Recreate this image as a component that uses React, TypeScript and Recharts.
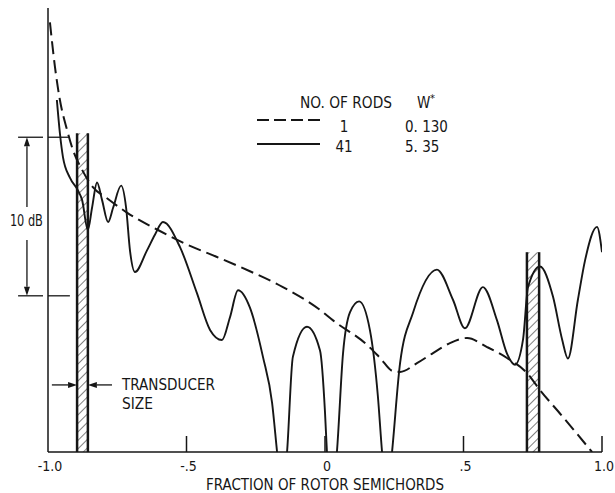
import React from "react"
import { LineChart, Line, XAxis, YAxis, ReferenceArea, ReferenceLine, ReferenceDot, Legend } from "recharts"

// 1 rod (dashed)
const rod1X = [-0.993, -0.975, -0.957, -0.931, -0.91, -0.877, -0.838, -0.787, -0.715, -0.603, -0.513, -0.39, -0.271, -0.152, -0.018, 0.029, 0.152, 0.199, 0.245, 0.271, 0.332, 0.39, 0.451, 0.513, 0.585, 0.657, 0.729, 0.776, 0.859, 0.964]
const rod1Db = [27.1, 24.3, 22.2, 20.3, 19.05, 17.8, 16.7, 16.0, 15.1, 14.0, 13.2, 12.3, 11.4, 10.4, 8.96, 8.3, 6.75, 5.93, 5.1, 5.05, 5.6, 6.24, 6.87, 7.19, 6.62, 5.93, 4.98, 3.91, 2.21, 0]

// 41 rods (solid); values below 0 are the nulls that run off the bottom
const rod41X = [-0.968, -0.957, -0.946, -0.921, -0.892, -0.877, -0.856, -0.841, -0.823, -0.805, -0.783, -0.765, -0.736, -0.718, -0.704, -0.686, -0.643, -0.614, -0.585, -0.523, -0.462, -0.415, -0.372, -0.343, -0.314, -0.271, -0.224, -0.191, -0.173, -0.155, -0.137, -0.116, -0.065, -0.018, 0.0, 0.007, 0.025, 0.043, 0.065, 0.09, 0.123, 0.162, 0.191, 0.206, 0.224, 0.242, 0.271, 0.318, 0.404, 0.462, 0.505, 0.57, 0.621, 0.657, 0.686, 0.715, 0.733, 0.776, 0.823, 0.856, 0.877, 0.913, 0.939, 0.982, 1.0]
const rod41Db = [22.2, 20.1, 18.6, 17.3, 16.5, 15.9, 14.0, 15.4, 17.0, 15.9, 14.5, 15.4, 16.8, 15.4, 12.7, 11.35, 12.7, 13.7, 14.5, 12.9, 10.0, 7.7, 7.06, 8.5, 10.2, 9.1, 6.0, 3.1, 0, -3, 0, 6.0, 7.9, 6.4, 2.5, 0, -3, 0, 6.2, 8.8, 9.5, 7.7, 3.5, 0, -3, 0, 5.6, 8.8, 11.5, 9.6, 7.8, 10.4, 8.3, 6.2, 5.5, 7.1, 10.4, 11.7, 9.8, 7.1, 5.9, 9.6, 12.1, 14.2, 12.6]

const xTicks = [-1, -0.5, 0, 0.5, 1]
const xTickLabels = ["-1.0", "-.5", "0", ".5", "1.0"]

const rodCounts = ["1", "41"]
const wStar = ["0. 130", "5. 35"]

// transducer strips: x1, x2, top (dB)
const stripLeft = [-0.895, -0.856, 20.1]
const stripRight = [0.729, 0.773, 12.6]

// 10 dB scale bar
const scaleBarDb = [9.85, 19.85]

const INK = "#161616"
const FONT = "'DejaVu Sans Condensed', 'Liberation Sans Narrow', 'Roboto Condensed', 'DejaVu Sans', sans-serif"

const rod1 = rod1X.map((x, i) => ({ x, db: rod1Db[i] }))
const rod41 = rod41X.map((x, i) => ({ x, db: rod41Db[i] }))

function XTick({ x, y, payload }: any) {
  const i = xTicks.indexOf(payload.value)
  return (
    <g>
      {payload.value !== -1 && <line x1={x} x2={x} y1={y} y2={y - 16} stroke={INK} strokeWidth={1.5} />}
      <text x={x + 2} y={y + 19} textAnchor="middle" fontSize={14} fontFamily={FONT} fill={INK}>
        {xTickLabels[i]}
      </text>
    </g>
  )
}

function AxisTitle(props: any) {
  const vb = props.viewBox
  return (
    <text
      x={vb.x + vb.width / 2}
      y={vb.y + vb.height - 3}
      textAnchor="middle"
      fontSize={15}
      fontFamily={FONT}
      fill={INK}
      textLength={238}
      lengthAdjust="spacingAndGlyphs"
    >
      FRACTION OF ROTOR SEMICHORDS
    </text>
  )
}

function Arrow(props: any) {
  const { x1, y1, x2, y2 } = props
  const a = Math.atan2(y2 - y1, x2 - x1)
  const len = 9
  const half = 3
  const bx = x2 - len * Math.cos(a)
  const by = y2 - len * Math.sin(a)
  const px = -Math.sin(a) * half
  const py = Math.cos(a) * half
  return (
    <g>
      <line x1={x1} y1={y1} x2={bx} y2={by} stroke={INK} strokeWidth={1.3} />
      <polygon points={`${x2},${y2} ${bx + px},${by + py} ${bx - px},${by - py}`} fill={INK} />
    </g>
  )
}

function LegendBox() {
  return (
    <svg width={220} height={70} style={{ display: "block", overflow: "visible" }}>
      <text x={50} y={20} fontSize={15} fontFamily={FONT} fill={INK} textLength={92} lengthAdjust="spacingAndGlyphs">
        NO. OF RODS
      </text>
      <text x={167} y={20} fontSize={15} fontFamily={FONT} fill={INK}>W</text>
      <text x={180} y={14} fontSize={11} fontFamily={FONT} fill={INK}>*</text>
      <line x1={7} x2={70} y1={32} y2={32} stroke={INK} strokeWidth={2} strokeDasharray="12 5" />
      <line x1={7} x2={70} y1={56} y2={56} stroke={INK} strokeWidth={1.8} />
      {rodCounts.map((r, i) => (
        <text key={r} x={94} y={44 + i * 20} textAnchor="middle" fontSize={15} fontFamily={FONT} fill={INK}>
          {r}
        </text>
      ))}
      {wStar.map((w, i) => (
        <text key={w} x={155} y={44 + i * 20} fontSize={15} fontFamily={FONT} fill={INK}>
          {w}
        </text>
      ))}
    </svg>
  )
}

export default function App() {
  return (
    <div style={{ position: "absolute", left: 0, top: 0, width: 615, height: 493, background: "#fff" }}>
      <LineChart width={615} height={493} margin={{ top: 8, right: 13, bottom: 0, left: 0 }}>
        <defs>
          <pattern id="hatch" width={6} height={6} patternUnits="userSpaceOnUse" patternTransform="rotate(45)">
            <line x1={0} y1={0} x2={0} y2={6} stroke={INK} strokeWidth={1.1} />
          </pattern>
        </defs>
        <XAxis
          type="number"
          dataKey="x"
          domain={[-1, 1]}
          allowDataOverflow
          ticks={xTicks}
          interval={0}
          tick={(p: any) => <XTick {...p} />}
          tickLine={false}
          tickSize={0}
          tickMargin={0}
          height={41}
          axisLine={{ stroke: INK, strokeWidth: 1.5 }}
          label={{ content: AxisTitle }}
        />
        <YAxis
          type="number"
          domain={[0, 28]}
          allowDataOverflow
          width={48}
          tick={false}
          tickLine={false}
          axisLine={{ stroke: INK, strokeWidth: 1.5 }}
        />

        <ReferenceArea x1={stripLeft[0]} x2={stripLeft[1]} y1={0} y2={stripLeft[2]} fill="url(#hatch)" fillOpacity={1} stroke="none" />
        <ReferenceArea x1={stripRight[0]} x2={stripRight[1]} y1={0} y2={stripRight[2]} fill="url(#hatch)" fillOpacity={1} stroke="none" />
        {[stripLeft, stripRight].flatMap((s, k) =>
          [s[0], s[1]].map((xe, j) => (
            <ReferenceLine
              key={`edge${k}${j}`}
              segment={[{ x: xe, y: 0 }, { x: xe, y: s[2] }]}
              stroke={INK}
              strokeWidth={2.5}
            />
          ))
        )}

        {scaleBarDb.flatMap((d, k) => [
          <ReferenceLine key={`sbA${k}`} segment={[{ x: -1.108, y: d }, { x: -1.018, y: d }]} stroke={INK} strokeWidth={1.3} ifOverflow="visible" />,
          <ReferenceLine key={`sbB${k}`} segment={[{ x: -1, y: d }, { x: -0.921, y: d }]} stroke={INK} strokeWidth={1.3} ifOverflow="visible" />,
        ])}
        <ReferenceLine segment={[{ x: -1.076, y: 15.45 }, { x: -1.076, y: scaleBarDb[1] }]} ifOverflow="visible" shape={Arrow} />
        <ReferenceLine segment={[{ x: -1.076, y: 13.37 }, { x: -1.076, y: scaleBarDb[0] }]} ifOverflow="visible" shape={Arrow} />
        <ReferenceDot
          x={-1.078}
          y={14.6}
          ifOverflow="visible"
          shape={(p: any) => (
            <text x={p.cx} y={p.cy + 5.5} textAnchor="middle" fontSize={15} fontFamily={FONT} fill={INK} textLength={33} lengthAdjust="spacingAndGlyphs">
              10 dB
            </text>
          )}
        />

        <ReferenceLine segment={[{ x: -0.986, y: 4.23 }, { x: stripLeft[0], y: 4.23 }]} shape={Arrow} />
        <ReferenceLine segment={[{ x: -0.769, y: 4.23 }, { x: stripLeft[1], y: 4.23 }]} shape={Arrow} />
        <ReferenceDot
          x={-0.733}
          y={3.91}
          ifOverflow="visible"
          shape={(p: any) => (
            <g fontSize={15} fontFamily={FONT} fill={INK}>
              <text x={p.cx} y={p.cy} textLength={93} lengthAdjust="spacingAndGlyphs">TRANSDUCER</text>
              <text x={p.cx} y={p.cy + 19} textLength={31} lengthAdjust="spacingAndGlyphs">SIZE</text>
            </g>
          )}
        />

        <Line
          data={rod1}
          dataKey="db"
          name="1"
          type="monotone"
          stroke={INK}
          strokeWidth={2}
          strokeDasharray="13 6"
          dot={false}
          isAnimationActive={false}
        />
        <Line
          data={rod41}
          dataKey="db"
          name="41"
          type="monotone"
          stroke={INK}
          strokeWidth={1.9}
          dot={false}
          isAnimationActive={false}
        />

        <Legend
          layout="vertical"
          align="center"
          verticalAlign="middle"
          wrapperStyle={{ left: 250, top: 88, width: 220, height: 70 }}
          content={() => <LegendBox />}
        />
      </LineChart>
    </div>
  )
}
